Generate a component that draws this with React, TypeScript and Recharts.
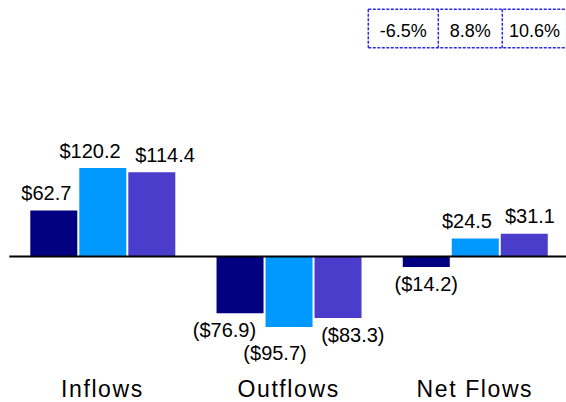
import React from 'react';
import { BarChart, Bar, XAxis, YAxis, ReferenceLine, LabelList } from 'recharts';

// ---- data ----
const categories = ['Inflows', 'Outflows', 'Net Flows'];
const seriesA = [62.7, -76.9, -14.2];
const seriesB = [120.2, -95.7, 24.5];
const seriesC = [114.4, -83.3, 31.1];
const growthLabels = ['-6.5%', '8.8%', '10.6%'];

// ---- style ----
const FONT = '"Liberation Sans", Arial, Helvetica, sans-serif';
const COLORS = { seriesA: '#000080', seriesB: '#0099FF', seriesC: '#4B3DCB' };
// label nudges (px) per series, per category
const LABEL_DX: Record<string, number[]> = {
  seriesA: [-7.5, -15.6, 0],
  seriesB: [-12.8, -14, -8.3],
  seriesC: [13.2, 14.8, 5.7],
};
const LABEL_DY: Record<string, number[]> = {
  seriesA: [0, 0, 0],
  seriesB: [0, 8.5, 0],
  seriesC: [0, 0, 0],
};

const rows = categories.map((c, i) => ({
  category: c,
  seriesA: seriesA[i],
  seriesB: seriesB[i],
  seriesC: seriesC[i],
}));

const fmt = (v: number) => (v < 0 ? `($${Math.abs(v).toFixed(1)})` : `$${v.toFixed(1)}`);

const makeLabel = (key: string) => (props: any) => {
  const { x, y, width, height, value, index } = props;
  const v = Number(value);
  const top = Math.min(Number(y), Number(y) + Number(height));
  const bottom = Math.max(Number(y), Number(y) + Number(height));
  const cx = Number(x) + Number(width) / 2 + (LABEL_DX[key][index] || 0);
  const ty = v >= 0 ? top - 10.5 : bottom + 24 + (LABEL_DY[key][index] || 0);
  return (
    <text x={cx} y={ty} textAnchor="middle" fontSize={20} fill="#000" fontFamily={FONT}>
      {fmt(v)}
    </text>
  );
};

const boxLeft = 368.3;
const boxDividers = [368.3, 438.3, 502.3, 566.7];
const boxTop = 9.3;
const boxBottom = 47.7;

export default function App() {
  return (
    <div
      style={{
        position: 'absolute',
        left: 0,
        top: 0,
        width: 566,
        height: 402,
        overflow: 'hidden',
        background: '#fff',
        fontFamily: FONT,
      }}
    >
      <BarChart
        width={570}
        height={402}
        data={rows}
        margin={{ top: 109.3, right: 2, left: 9.3, bottom: 0 }}
        barSize={47}
        barGap={2}
      >
        <XAxis
          dataKey="category"
          axisLine={false}
          tickLine={false}
          tickSize={0}
          tickMargin={14}
          height={35}
          interval={0}
          tick={{ fill: '#000', fontSize: 23, fontFamily: FONT, letterSpacing: 1.6 }}
        />
        <YAxis hide domain={[-150, 200]} />
        {(['seriesA', 'seriesB', 'seriesC'] as const).map((k) => (
          <Bar key={k} dataKey={k} fill={COLORS[k]} isAnimationActive={false}>
            <LabelList dataKey={k} content={makeLabel(k)} />
          </Bar>
        ))}
        <ReferenceLine y={0} stroke="#000" strokeWidth={2} />
      </BarChart>
      <svg
        width={566}
        height={60}
        style={{ position: 'absolute', left: 0, top: 0 }}
      >
        <line x1={boxLeft} x2={570} y1={boxTop} y2={boxTop} stroke="#2a2ae6" strokeWidth={1.5} strokeDasharray="3 1.5" />
        <line x1={boxLeft} x2={570} y1={boxBottom} y2={boxBottom} stroke="#2a2ae6" strokeWidth={1.5} strokeDasharray="3 1.5" />
        {boxDividers.map((d, i) => (
          <line key={i} x1={d} x2={d} y1={boxTop} y2={boxBottom} stroke="#2a2ae6" strokeWidth={1.5} strokeDasharray="3 1.5" />
        ))}
        {growthLabels.map((g, i) => (
          <text
            key={g}
            x={(boxDividers[i] + boxDividers[i + 1]) / 2}
            y={36.7}
            textAnchor="middle"
            fontSize={18}
            fill="#000"
            fontFamily={FONT}
          >
            {g}
          </text>
        ))}
      </svg>
    </div>
  );
}
